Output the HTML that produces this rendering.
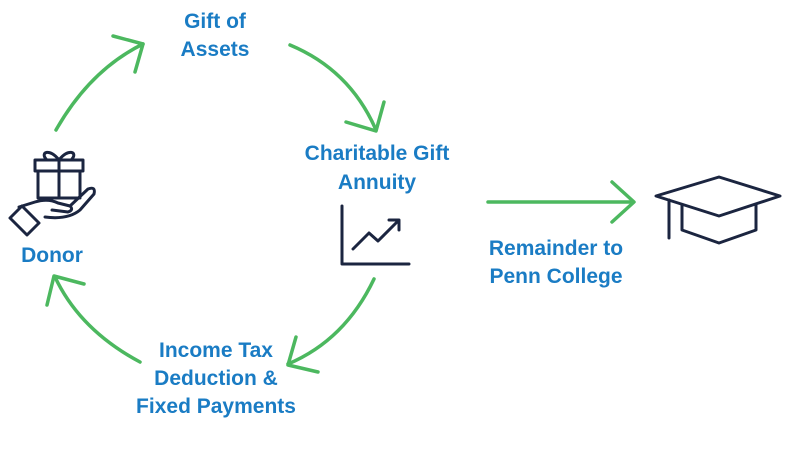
<!DOCTYPE html>
<html><head><style>
body{margin:0;width:800px;height:450px;background:#fff;overflow:hidden}
svg{display:block}
text{font-family:"Liberation Sans",Arial,sans-serif;font-weight:bold;font-size:21px;fill:#1a7cc4;text-anchor:middle}
</style></head><body>
<svg width="800" height="450" viewBox="0 0 800 450">
<g fill="none" stroke="#4cb85f" stroke-width="3.5" stroke-linecap="round" stroke-linejoin="round">
<path d="M56 130 Q90 70 143 44"/><polyline points="113,36 143,44 135,72"/>
<path d="M290 45 Q350 70 376 130"/><polyline points="346,122 376,131 384,102"/>
<path d="M374 279 Q345 340 288 364"/><polyline points="296,337 288,365 318,372"/>
<path d="M140 362 Q80 330 55 277"/><polyline points="84,284 54,276 47,305"/>
<line x1="488" y1="202" x2="633" y2="202"/><polyline points="612,182 634,202 612,222"/>
</g>
<text x="215" y="28">Gift of</text>
<text x="215" y="56">Assets</text>
<text x="377" y="160">Charitable Gift</text>
<text x="377" y="189">Annuity</text>
<text x="52" y="262">Donor</text>
<text x="556" y="255">Remainder to</text>
<text x="556" y="283">Penn College</text>
<text x="216" y="357">Income Tax</text>
<text x="216" y="385">Deduction &amp;</text>
<text x="216" y="413">Fixed Payments</text>
<g fill="none" stroke="#1b2540" stroke-width="3" stroke-linejoin="round" stroke-linecap="round">
<polyline points="342,206 342,264 409,264"/>
<polyline points="353,249 369,233 378,241 398,221"/>
<polyline points="389,220 399,220 399,230"/>
<rect x="35" y="160" width="48" height="11"/>
<rect x="38" y="171" width="42" height="27"/>
<line x1="59" y1="160" x2="59" y2="198"/>
<path d="M59 160 C50 148 40 152 46 159 M59 160 C68 148 78 152 72 159"/>
<path d="M19 207 L35 202 Q48 198 58 203 L70 206 Q74 210 68 212 L52 210 M70 206 L88 189 Q96 186 94 194 L80 210 Q68 220 45 217"/>
<path d="M10 218 L22 206 L39 223 L27 235 Z"/>
<path d="M656 196 L719 177 L780 196 L719 216 Z"/>
<path d="M682 205 L682 230 L719 243 L756 230 L756 205"/>
<line x1="669" y1="200" x2="669" y2="238"/>
</g>
</svg>
</body></html>
